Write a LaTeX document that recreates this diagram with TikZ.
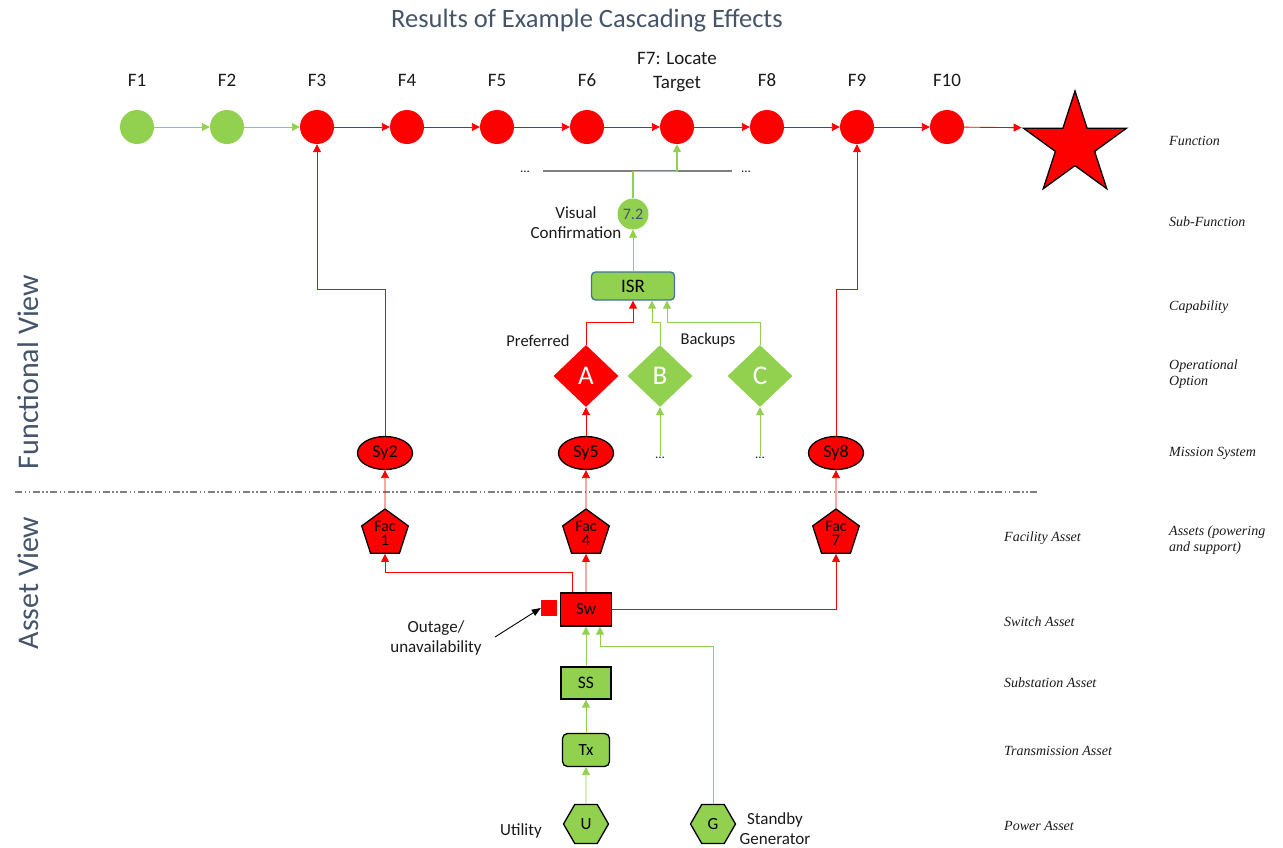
\documentclass[tikz,border=0pt]{standalone}
\usepackage{fontspec}
\setmainfont{Carlito}
\newfontfamily\labfont{Liberation Serif}
\usetikzlibrary{arrows.meta,shapes.geometric}
\definecolor{redc}{HTML}{FF0000}
\definecolor{greenc}{HTML}{92D050}
\definecolor{slate}{HTML}{44546A}
\definecolor{txt}{HTML}{1A1A1A}
\definecolor{isrborder}{HTML}{41719C}
\definecolor{grayline}{HTML}{808080}
\begin{document}
\begin{tikzpicture}[x=1pt,y=-1pt,
  fcirc/.style={circle, minimum size=34pt, inner sep=0pt},
  flab/.style={font=\fontsize{19}{24}\selectfont, text=txt, align=center},
  tlab/.style={font=\fontsize{17}{20}\selectfont, text=txt, align=center},
  rlab/.style={font=\labfont\itshape\fontsize{14}{15.5}\selectfont, text=txt, anchor=west, align=left, inner sep=0pt},
  redshape/.style={fill=redc, draw=black, line width=1.3pt},
  greenshape/.style={fill=greenc, draw=black, line width=1.3pt},
  rarr/.style={draw=redc, line width=0.9pt, -{Triangle[length=8pt,width=8pt]}},
  garr/.style={draw=greenc, line width=0.9pt, -{Triangle[length=8pt,width=8pt]}},
  dots/.style={font=\fontsize{13}{14}\selectfont, text=txt, inner sep=1pt},
  diam/.style={diamond, minimum width=65pt, minimum height=62pt, inner sep=0pt, text=white, font=\fontsize{27}{28}\selectfont},
  sys/.style={ellipse, redshape, minimum width=55pt, minimum height=33pt, inner sep=0pt, font=\fontsize{18}{20}\selectfont},
  fac/.style={regular polygon, regular polygon sides=5, minimum size=49pt, inner sep=0pt, redshape, align=center, font=\fontsize{16}{14}\selectfont},
  hexa/.style={regular polygon, regular polygon sides=6, minimum size=45pt, inner sep=0pt, greenshape, font=\fontsize{17}{20}\selectfont}
]
\useasboundingbox (0,0) rectangle (1283,847);

% title and side labels
\node[font=\fontsize{26.5}{30}\selectfont, text=slate] (title) at (587,21) {Results of Example Cascading Effects};
\node[rotate=90, font=\fontsize{30}{34}\selectfont, text=slate] (fview) at (28,372) {Functional View};
\node[rotate=90, font=\fontsize{30}{34}\selectfont, text=slate] (aview) at (28,583) {Asset View};

% function row
\foreach \i/\x/\c in {1/137/greenc,2/227/greenc,3/317/redc,4/407/redc,5/497/redc,6/587/redc,7/677/redc,8/767/redc,9/857/redc,10/947/redc}{
  \node[fcirc, fill=\c] (F\i) at (\x,127) {};
}
\foreach \i/\x in {1/137,2/227,3/317,4/407,5/497,6/587,8/767,9/857,10/947}{
  \node[flab] (L\i) at (\x,80) {F\i};
}
\node[flab] (L7) at (677,72) {F7: Locate\\Target};
\node[star, star points=5, star point ratio=2.618, minimum size=108pt, inner sep=0pt, redshape] (star) at (1075,145) {};

\draw[garr] (F1) -- (F2);
\draw[garr] (F2) -- (F3);
\foreach \a/\b in {3/4,4/5,5/6,6/7,7/8,8/9,9/10}{
  \draw[rarr] (F\a) -- (F\b);
}
\draw[rarr] (F10) -- (star.outer point 2);

% sub-function
\coordinate (subL) at (543,171);
\coordinate (subR) at (732,171);
\draw[grayline, line width=1.4pt] (subL) -- (subR);
\node[dots] (d1) at (525,172) {...};
\node[dots] (d2) at (746,172) {...};
\node[circle, fill=greenc, minimum size=31pt, inner sep=0pt, text=slate, font=\fontsize{16}{18}\selectfont] (s72) at (633,214) {7.2};
\node[tlab] (vc) at (576,223) {Visual\\Confirmation};
\draw[garr, line width=1.2pt] (s72.north) -- ([yshift=-0.5pt]s72.north |- subL) -| (F7.south);

% capability
\node[rectangle, rounded corners=4pt, fill=greenc, draw=isrborder, line width=1.3pt, minimum width=83pt, minimum height=28pt, font=\fontsize{19}{20}\selectfont] (ISR) at (633,286) {ISR};
\draw[garr] (ISR.north) -- (s72.south);

% operational options
\node[diam, fill=redc] (A) at (586,376) {A};
\node[diam, fill=greenc] (B) at (660,376) {B};
\node[diam, fill=greenc] (C) at (760,376) {C};
\node[tlab, font=\fontsize{16.5}{20}\selectfont] (pref) at (538,341) {Preferred};
\node[tlab, font=\fontsize{16.5}{20}\selectfont] (back) at (708,340) {Backups};
\draw[rarr] (A.north) -- ++(0,-22) -| (ISR.south);
\draw[garr] (B.north) -- ++(0,-22) -| ([xshift=19pt]ISR.south);
\draw[garr] (C.north) -- ++(0,-22) -| ([xshift=34pt]ISR.south);

% mission systems
\node[sys] (Sy2) at (385,453) {Sy2};
\node[sys] (Sy5) at (586,453) {Sy5};
\node[sys] (Sy8) at (836,453) {Sy8};
\node[dots] (dB) at (660,458) {...};
\node[dots] (dC) at (760,458) {...};
\draw[rarr] (Sy2.north) -- ++(0,-146) -| (F3.south);
\draw[rarr] (Sy8.north) -- ++(0,-146) -| (F9.south);
\draw[rarr] (Sy5.north) -- (A.south);
\draw[garr] (dB.north) -- (B.south);
\draw[garr] (dC.north) -- (C.south);

% divider
\coordinate (divL) at (15,492);
\coordinate (divR) at (1037,492);
\draw[grayline, line width=1.4pt, dash pattern=on 7pt off 2.5pt on 1.5pt off 2.5pt on 1.5pt off 2.5pt] (divL) -- (divR);

% facilities
\node[fac] (Fac1) at (385,533.5) {Fac\\1};
\node[fac] (Fac4) at (586,533.5) {Fac\\4};
\node[fac] (Fac7) at (836,533.5) {Fac\\7};
\draw[rarr] (Fac1.north) -- (Sy2.south);
\draw[rarr] (Fac4.north) -- (Sy5.south);
\draw[rarr] (Fac7.north) -- (Sy8.south);

% switch
\node[rectangle, redshape, minimum width=51pt, minimum height=33pt, font=\fontsize{17}{20}\selectfont] (Sw) at (586,609.5) {Sw};
\draw[rarr] ([xshift=-14pt]Sw.north) -- ++(0,-20) -| (Fac1.south);
\draw[rarr] (Sw.north) -- (Fac4.south);
\draw[rarr] (Sw.east) -| (Fac7.south);
\node[rectangle, fill=redc, minimum size=16pt, inner sep=0pt] (sq) at (549,608) {};
\node[tlab] (outage) at (436,638) {Outage/\\unavailability};
\coordinate (outTail) at (495,637);
\draw[black, line width=0.9pt, -{Triangle[length=9pt,width=7pt]}] (outTail) -- (sq.west);

% substation, transmission, power
\node[rectangle, greenshape, minimum width=50pt, minimum height=32pt, font=\fontsize{17.5}{20}\selectfont] (SS) at (586,683) {SS};
\node[rectangle, rounded corners=5pt, greenshape, minimum width=47pt, minimum height=33pt, font=\fontsize{17}{20}\selectfont] (Tx) at (586,750) {Tx};
\node[hexa] (U) at (586,824) {U};
\node[hexa] (G) at (713,824) {G};
\draw[garr] (SS.north) -- (Sw.south);
\draw[garr] (Tx.north) -- (SS.south);
\draw[garr] (U.north) -- (Tx.south);
\draw[garr] (G.north) -- ++(0,-157) -| ([xshift=14pt]Sw.south);
\node[tlab] (util) at (521,831) {Utility};
\node[tlab] (stby) at (775,829) {Standby\\Generator};

% right labels
\node[rlab] (rFunc) at (1169,141) {Function};
\node[rlab] (rSub) at (1169,222) {Sub-Function};
\node[rlab] (rCap) at (1169,307) {Capability};
\node[rlab] (rOp) at (1169,374) {Operational\\Option};
\node[rlab] (rMis) at (1169,453) {Mission System};
\node[rlab] (rAss) at (1169,540) {Assets (powering\\and support)};
\node[rlab] (rFac) at (1004,538) {Facility Asset};
\node[rlab] (rSw) at (1004,622) {Switch Asset};
\node[rlab] (rSS) at (1004,683) {Substation Asset};
\node[rlab] (rTx) at (1004,751) {Transmission Asset};
\node[rlab] (rPw) at (1004,826) {Power Asset};
\end{tikzpicture}
\end{document}
